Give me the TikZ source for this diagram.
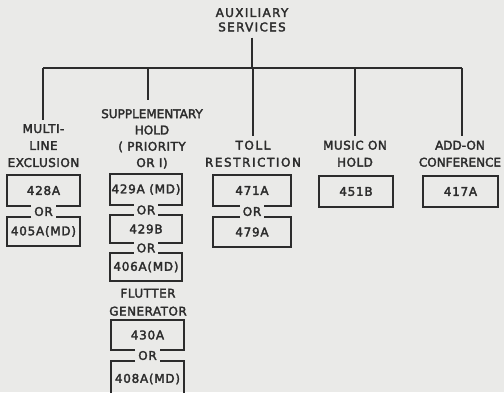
\documentclass[tikz,border=0pt]{standalone}
\usepackage{fontspec}
\newfontfamily\labfont[FakeBold=2.5,LetterSpace=4]{DejaVu Sans}
\newfontfamily\labaux[FakeBold=2.5,LetterSpace=11]{DejaVu Sans}
\newfontfamily\labplain[FakeBold=2.5]{DejaVu Sans}
\newfontfamily\labwide[FakeBold=2.5,LetterSpace=13]{DejaVu Sans}
\newfontfamily\boxfont[FakeBold=2.5,LetterSpace=6]{DejaVu Sans}
\definecolor{bg}{HTML}{EAEAE8}
\definecolor{ink}{HTML}{2C2C2C}
\newcommand\topbox[2]{\draw[boxline] (#2.west |- #1.south) -- (#1.south west) -- (#1.north west) -- (#1.north east) -- (#1.south east) -- (#2.east |- #1.south);}
\newcommand\botbox[2]{\draw[boxline] (#2.west |- #1.north) -- (#1.north west) -- (#1.south west) -- (#1.south east) -- (#1.north east) -- (#2.east |- #1.north);}
\newcommand\midbox[3]{\draw[boxline] (#2.west |- #1.north) -- (#1.north west) -- (#1.south west) -- (#3.west |- #1.south);
 \draw[boxline] (#2.east |- #1.north) -- (#1.north east) -- (#1.south east) -- (#3.east |- #1.south);}
\begin{document}
\begin{tikzpicture}[x=1pt,y=-1pt,
  lab/.style={font=\labfont\fontsize{12}{17}\selectfont, text=ink, align=center, inner sep=0pt, anchor=north},
  bx/.style={font=\boxfont\fontsize{12}{14}\selectfont, text=ink, inner sep=0pt, minimum width=#1},
  ortxt/.style={font=\boxfont\fontsize{12}{14}\selectfont, text=ink, inner xsep=3pt, inner ysep=0pt},
  boxline/.style={draw=ink, line width=1.5pt},
  tree/.style={draw=ink, line width=1.5pt}]
\fill[bg] (0,0) rectangle (504,392);
\useasboundingbox (0,0) rectangle (504,392);

% labels
\node[lab, font=\labaux\fontsize{12}{14.4}\selectfont] (aux) at (252,8) {AUXILIARY\\SERVICES};
\node[lab] (ml) at (43.5,124) {MULTI-\\LINE\\EXCLUSION};
\node[lab, font=\labplain\fontsize{12}{16.3}\selectfont] (sup) at (152,109) {SUPPLEMENTARY\\HOLD\\{\labfont( PRIORITY}\\{\labfont OR I)}};
\node[lab, font=\labwide\fontsize{12}{17}\selectfont] (toll) at (253,140.5) {TOLL\\RESTRICTION};
\node[lab] (mus) at (355,140.5) {MUSIC ON\\HOLD};
\node[lab, font=\labplain\fontsize{12}{17}\selectfont] (add) at (460,140.5) {ADD-ON\\CONFERENCE};
\node[lab, font=\labfont\fontsize{12}{18}\selectfont] (flut) at (148,288.6) {FLUTTER\\GENERATOR};

% tree
\coordinate (bl) at (43,68);
\coordinate (br) at (462,68);
\coordinate (d2) at (148,100);
\draw[tree] (aux.south) ++(0,-6pt) coordinate (a0) -- (a0 |- bl);
\draw[tree] (bl) -- (br);
\draw[tree] (bl) -- ([yshift=4pt]ml.north -| bl);
\draw[tree] (d2 |- bl) -- (d2);
\draw[tree] (toll.north |- bl) -- ([yshift=5pt]toll.north);
\draw[tree] (mus.north |- bl) -- ([yshift=5pt]mus.north);
\draw[tree] (br) -- ([yshift=5pt]add.north -| br);

% column 1
\node[bx=73pt, minimum height=31pt] (b428) at (43.5,190.5) {428A};
\node[ortxt] (or1) at (43.5,211.5) {OR};
\node[bx=73pt, minimum height=29pt] (b405) at (43.5,231.5) {405A(MD)};
\topbox{b428}{or1}
\botbox{b405}{or1}

% column 2
\node[bx=72pt, minimum height=31pt] (b429a) at (146,189.5) {429A (MD)};
\node[ortxt] (or2) at (146,210) {OR};
\node[bx=72pt, minimum height=28pt] (b429b) at (146,229) {429B};
\node[ortxt] (or3) at (146,248) {OR};
\node[bx=72pt, minimum height=28pt] (b406) at (146,267) {406A(MD)};
\topbox{b429a}{or2}
\midbox{b429b}{or2}{or3}
\botbox{b406}{or3}
\node[bx=73pt, minimum height=30pt] (b430) at (147.5,335) {430A};
\node[ortxt] (or4) at (147.5,355.5) {OR};
\node[bx=73pt, minimum height=36pt] (b408) at (147.5,379) {408A(MD)};
\topbox{b430}{or4}
\botbox{b408}{or4}

% column 3
\node[bx=78pt, minimum height=31pt] (b471) at (252,190.5) {471A};
\node[ortxt] (or5) at (252,211.5) {OR};
\node[bx=78pt, minimum height=30pt] (b479) at (252,232) {479A};
\topbox{b471}{or5}
\botbox{b479}{or5}

% columns 4 and 5
\node[bx=74pt, minimum height=31pt, boxline] (b451) at (356,191.5) {451B};
\node[bx=75pt, minimum height=31pt, boxline] (b417) at (460.5,191.5) {417A};
\end{tikzpicture}
\end{document}
